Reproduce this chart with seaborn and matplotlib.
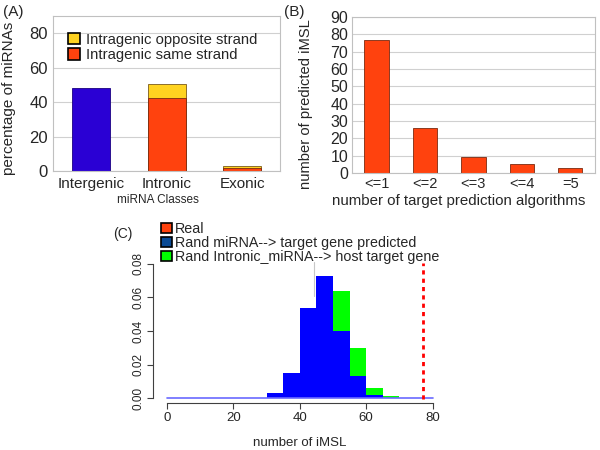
import numpy as np
import pandas as pd
import matplotlib
matplotlib.use("Agg")
import matplotlib.pyplot as plt
from matplotlib.patches import Patch
import seaborn as sns

# panel A: miRNA classes (percentage)
classes = ["Intergenic", "Intronic", "Exonic"]
intergenic = [48, 0, 0]
same_strand = [0, 42.5, 2]
opposite_strand = [0, 8, 1]

# panel B: predicted iMSL per number of algorithms
algo_labels = ["<=1", "<=2", "<=3", "<=4", "=5"]
algo_counts = [77, 26, 9, 5, 3]

# panel C: histogram densities, bins of width 5
bin_edges = [30, 35, 40, 45, 50, 55, 60, 65, 70]
rand_target = [0.003, 0.015, 0.054, 0.073, 0.040, 0.013, 0.002, 0.0]
rand_host = [0.0, 0.002, 0.012, 0.045, 0.064, 0.030, 0.006, 0.001]
real_value = 77

sns.set_style("white")
plt.rcParams["font.family"] = ["Liberation Sans", "DejaVu Sans"]

RED = "#ff420e"
YELLOW = "#ffd320"
BLUE_A = "#2a00d4"

fig = plt.figure(figsize=(6, 4.5), dpi=100)

# ---------- (A)
axA = fig.add_axes([0.089, 0.62, 0.378, 0.344])
tot = [s + o for s, o in zip(same_strand, opposite_strand)]
dfA = pd.DataFrame({"cls": classes, "tot": tot, "same": same_strand, "inter": intergenic})
sns.barplot(data=dfA[dfA.tot > 0], x="cls", y="tot", order=classes, color=YELLOW,
            saturation=1, width=0.5, edgecolor="#7a5a1a", linewidth=0.6, ax=axA)
sns.barplot(data=dfA[dfA.same > 0], x="cls", y="same", order=classes, color=RED,
            saturation=1, width=0.5, edgecolor="#7a2a10", linewidth=0.6, ax=axA)
sns.barplot(data=dfA[dfA.inter > 0], x="cls", y="inter", order=classes, color=BLUE_A,
            saturation=1, width=0.5, edgecolor="#1a0080", linewidth=0.6, ax=axA)
axA.set_ylim(0, 90)
axA.set_yticks([0, 20, 40, 60, 80])
axA.yaxis.grid(True, color="#d0d0d0", lw=0.8)
axA.set_axisbelow(True)
for sp in axA.spines.values():
    sp.set_color("#c0c0c0")
axA.tick_params(axis="x", labelsize=11, length=0, pad=4)
axA.tick_params(axis="y", labelsize=12, length=0, pad=4)
axA.set_xlabel("miRNA Classes", fontsize=8.5)
axA.xaxis.set_label_coords(0.46, -0.15)
axA.set_ylabel("percentage of miRNAs", fontsize=11)
axA.yaxis.set_label_coords(-0.165, 0.47)
hA = [Patch(facecolor=YELLOW, edgecolor="black", lw=1.2, label="Intragenic opposite strand"),
      Patch(facecolor=RED, edgecolor="black", lw=1.2, label="Intragenic same strand")]
axA.legend(handles=hA, loc="upper left", bbox_to_anchor=(0.02, 0.96), frameon=False,
           fontsize=10.7, handlelength=0.8, handleheight=0.8, handletextpad=0.4,
           labelspacing=0.1, borderaxespad=0.3)
fig.text(0.005, 0.988, "(A)", fontsize=11, va="top")

# ---------- (B)
axB = fig.add_axes([0.587, 0.616, 0.404, 0.346])
sns.barplot(x=algo_labels, y=algo_counts, color=RED, saturation=1, width=0.5,
            edgecolor="#7a2a10", linewidth=0.6, ax=axB)
axB.set_ylim(0, 90)
axB.set_yticks(range(0, 91, 10))
axB.yaxis.grid(True, color="#d0d0d0", lw=0.8)
axB.set_axisbelow(True)
for sp in axB.spines.values():
    sp.set_color("#c0c0c0")
axB.tick_params(axis="x", labelsize=10.5, length=0, pad=3)
axB.tick_params(axis="y", labelsize=11.5, length=0, pad=3)
axB.set_xlabel("number of target prediction algorithms", fontsize=10.8)
axB.xaxis.set_label_coords(0.44, -0.135)
axB.set_ylabel("number of predicted iMSL", fontsize=10.6)
axB.yaxis.set_label_coords(-0.16, 0.44)
fig.text(0.474, 0.988, "(B)", fontsize=11, va="top")

# ---------- (C)
axC = fig.add_axes([0.255, 0.104, 0.488, 0.317])
centers = [(a + b) / 2 for a, b in zip(bin_edges[:-1], bin_edges[1:])]
sns.histplot(x=centers, weights=rand_host, bins=bin_edges, color="#00ff00",
             alpha=1, linewidth=0, ax=axC)
sns.histplot(x=centers, weights=rand_target, bins=bin_edges, color="#0000ff",
             alpha=1, linewidth=0, ax=axC)
axC.plot([0, 80], [0, 0], color="#6a6aff", lw=1.2)
axC.plot([44.3, 44.3], [0.061, 0.081], color="#c8c8c8", lw=0.8)
axC.axvline(real_value, ymin=0.03, ymax=0.98, color="#ff0000", lw=2, ls=(0, (1.5, 1.5)))
axC.set_xlim(-4.2, 84)
axC.set_ylim(-0.003, 0.082)
axC.set_xticks([0, 20, 40, 60, 80])
axC.set_yticks([0, 0.02, 0.04, 0.06, 0.08])
axC.set_yticklabels(["0.00", "0.02", "0.04", "0.06", "0.08"], rotation=90, va="center")
axC.spines["top"].set_visible(False)
axC.spines["right"].set_visible(False)
axC.spines["left"].set_bounds(0, 0.08)
axC.spines["bottom"].set_bounds(0, 80)
for sp in ("left", "bottom"):
    axC.spines[sp].set_color("#404040")
    axC.spines[sp].set_linewidth(0.8)
axC.tick_params(axis="both", length=4, width=0.8, color="#404040",
                direction="out", left=True, bottom=True, pad=2)
axC.tick_params(axis="x", labelsize=9.5)
axC.tick_params(axis="y", labelsize=8.5)
axC.set_xlabel("number of iMSL", fontsize=9.5, labelpad=10)
axC.set_ylabel("")
hC = [Patch(facecolor=RED, edgecolor="black", lw=1.2, label="Real"),
      Patch(facecolor="#0a4a94", edgecolor="black", lw=1.2, label="Rand miRNA--> target gene predicted"),
      Patch(facecolor="#00ff00", edgecolor="black", lw=1.2, label="Rand Intronic_miRNA--> host target gene")]
fig.legend(handles=hC, loc="upper left", bbox_to_anchor=(0.268, 0.507), frameon=False,
           fontsize=10.3, handlelength=0.75, handleheight=0.75, handletextpad=0.25,
           labelspacing=0.0, borderaxespad=0, borderpad=0)
fig.text(0.188, 0.495, "(C)", fontsize=10, va="top")

fig.savefig("out.png", dpi=100)
